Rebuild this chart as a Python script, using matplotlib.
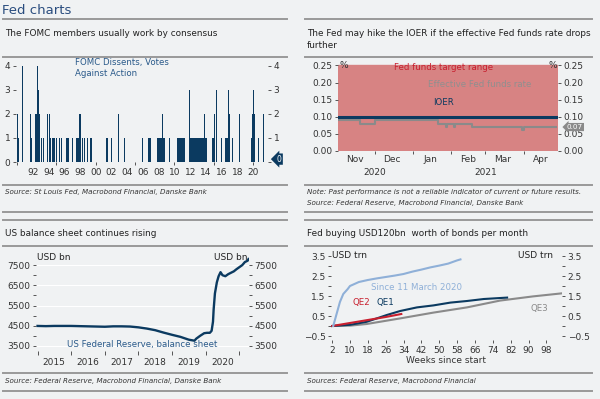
import numpy as np
import pandas as pd
import matplotlib
matplotlib.use("Agg")
import matplotlib.pyplot as plt
import matplotlib.dates as mdates
from matplotlib.lines import Line2D

plt.rcParams['font.family'] = ['DejaVu Sans']

# ---------------- data ----------------
# FOMC dissents (decimal year of meeting, votes against)
fomc_dates = [1990.0, 1990.17, 1990.64, 1991.74, 1991.87, 1992.38, 1992.47, 1992.54, 1992.67, 1992.8,
              1993.1, 1993.3, 1993.87, 1994.07, 1994.29, 1994.45, 1994.63, 1994.8, 1994.96,
              1995.34, 1995.69, 1996.32, 1996.45, 1996.58, 1997.05, 1997.6, 1997.72, 1997.85,
              1997.98, 1998.1, 1998.27, 1998.52, 1998.9, 1999.38, 1999.5,
              2001.41, 2001.54, 2002.05, 2002.9, 2003.6, 2005.9,
              2006.75, 2006.88, 2007.0,
              2007.9, 2008.03, 2008.15, 2008.28, 2008.4, 2008.53, 2008.65, 2008.78,
              2009.43,
              2010.4, 2010.52, 2010.64, 2010.76, 2010.88, 2011.0, 2011.12, 2011.24,
              2011.97, 2012.1, 2012.22, 2012.34, 2012.46, 2012.58, 2012.7, 2012.82, 2012.94,
              2013.06, 2013.18, 2013.3, 2013.42, 2013.54, 2013.66, 2013.78, 2013.9, 2014.02, 2014.14,
              2014.85, 2014.97, 2015.1, 2015.3,
              2016.04, 2016.46, 2016.58, 2016.7, 2016.9, 2017.05, 2017.4, 2017.7,
              2018.33, 2019.82, 2019.94, 2020.06, 2020.18, 2020.7, 2021.3]
fomc_dissents = [2, 1, 4, 2, 1, 2, 2, 4, 3, 2,
                 1, 1, 2, 2, 1, 1, 1, 1, 1,
                 1, 1, 1, 1, 1, 1, 1, 1, 1,
                 2, 2, 1, 1, 1, 1, 1,
                 1, 1, 1, 2, 1, 1,
                 1, 1, 1,
                 1, 1, 1, 1, 1, 2, 1, 1,
                 1,
                 1, 1, 1, 1, 1, 1, 1, 1,
                 3, 1, 1, 1, 1, 1, 1, 1, 1,
                 1, 1, 1, 1, 1, 1, 2, 1, 1, 1,
                 1, 1, 2, 3,
                 1, 1, 1, 1, 3, 2, 1, 1,
                 2, 1, 2, 3, 2, 1, 2]
fomc_years = list(range(1992, 2021, 2))

# Fed funds panel
rate_start = "2020-11-01"
rate_end = "2021-04-29"
target_low, target_high = 0.0, 0.25
ioer = 0.10
effr_dates = ["2020-11-01", "2020-11-19", "2020-12-01", "2021-01-21", "2021-01-28", "2021-01-29",
              "2021-02-03", "2021-02-04", "2021-02-18", "2021-03-31", "2021-04-01", "2021-04-27"]
effr_values = [0.09, 0.08, 0.09, 0.08, 0.07, 0.08, 0.07, 0.08, 0.07, 0.06, 0.07, 0.07]
months = ["Nov", "Dec", "Jan", "Feb", "Mar", "Apr"]

# Fed balance sheet, USD bn
bs_dates = ["2015-01-01", "2015-04-01", "2015-07-01", "2015-10-01", "2016-01-01", "2016-04-01",
            "2016-07-01", "2016-10-01", "2017-01-01", "2017-04-01", "2017-07-01", "2017-10-01",
            "2018-01-01", "2018-04-01", "2018-07-01", "2018-10-01", "2019-01-01", "2019-04-01",
            "2019-07-01", "2019-09-01", "2019-09-20", "2019-11-01", "2019-12-15", "2020-01-15",
            "2020-02-15", "2020-03-05", "2020-03-20", "2020-03-27", "2020-04-10", "2020-05-01",
            "2020-05-20", "2020-06-10", "2020-07-01", "2020-08-01", "2020-09-01", "2020-10-01",
            "2020-11-01", "2020-12-01", "2021-01-01", "2021-02-01", "2021-03-01", "2021-04-01",
            "2021-04-10"]
bs_values = [4490, 4480, 4490, 4490, 4490, 4480,
             4470, 4460, 4450, 4470, 4470, 4460,
             4420, 4360, 4280, 4160, 4050, 3950,
             3810, 3760, 3860, 4000, 4130, 4150,
             4150, 4250, 4700, 5300, 6100, 6650,
             6950, 7150, 7000, 6950, 7050, 7120,
             7190, 7300, 7400, 7500, 7650, 7720,
             7800]
bs_years = list(range(2015, 2021))

# QE comparison, USD trn by weeks since start
covid_weeks = [2.5, 4, 5.5, 7, 9, 10, 12, 14, 18, 22, 26, 30, 34, 38, 42, 46, 50, 54, 58, 59.5]
covid_vals = [0, 0.6, 1.2, 1.6, 1.85, 2.0, 2.1, 2.2, 2.3, 2.38, 2.45, 2.52, 2.6, 2.72, 2.82, 2.93, 3.02, 3.12, 3.28, 3.33]
qe1_weeks = [2, 10, 17.5, 26.5, 32.5, 40, 47.4, 55, 62.4, 70, 80.4]
qe1_vals = [0, 0.06, 0.21, 0.55, 0.75, 0.93, 1.03, 1.17, 1.25, 1.35, 1.42]
qe2_weeks = [2, 10, 18, 26, 33]
qe2_vals = [0, 0.15, 0.3, 0.45, 0.6]
qe3_weeks = [2, 10.2, 17.5, 32.5, 47.4, 62.4, 77.2, 92, 104.7]
qe3_vals = [0, 0.02, 0.1, 0.38, 0.67, 0.93, 1.27, 1.48, 1.63]

# ---------------- styling ----------------
W, H = 600, 399
BG = '#f0f2f3'
NAVY = '#0b3a60'
RED = '#c8202f'
GREY = '#8a8a8a'
LBLUE = '#8fb0d8'
TXT = '#222222'
LINE = '#999999'

fig = plt.figure(figsize=(6, 3.99), dpi=100, facecolor=BG)


def box(l, t, r, b):
    return [l / W, 1 - b / H, (r - l) / W, (b - t) / H]


def hline(x0, x1, y):
    fig.add_artist(Line2D([x0 / W, x1 / W], [1 - y / H, 1 - y / H], color=LINE, lw=1.4))


def ftext(x, y, s, **kw):
    fig.text(x / W, 1 - y / H, s, va='center', **kw)


def style(ax):
    ax.set_facecolor('none')
    for sp in ax.spines.values():
        sp.set_visible(False)
    ax.tick_params(axis='both', which='both', length=2.5, width=0.7, color='#555555',
                   labelsize=6.5, labelcolor='#333333', pad=1.5)


ftext(2, 10, "Fed charts", fontsize=9.5, color='#2a4d7f')

# separators
for x0, x1 in [(3, 287), (305, 592)]:
    for y in [19, 57, 185, 212, 220, 246, 373, 391]:
        hline(x0, x1, y)

ftext(5, 33, "The FOMC members usually work by consensus", fontsize=6.4, color=TXT)
ftext(307, 33, "The Fed may hike the IOER if the effective Fed funds rate drops", fontsize=6.4, color=TXT)
ftext(307, 45, "further", fontsize=6.4, color=TXT)
ftext(5, 233, "US balance sheet continues rising", fontsize=6.4, color=TXT)
ftext(307, 233, "Fed buying USD120bn  worth of bonds per month", fontsize=6.4, color=TXT)

src = dict(fontsize=5.1, style='italic', color='#333333')
ftext(5, 192, "Source: St Louis Fed, Macrobond Financial, Danske Bank", **src)
ftext(307, 192, "Note: Past performance is not a reliable indicator of current or future results.", **src)
ftext(307, 203, "Source: Federal Reserve, Macrobond Financial, Danske Bank", **src)
ftext(5, 381, "Source: Federal Reserve, Macrobond Financial, Danske Bank", **src)
ftext(307, 381, "Sources: Federal Reserve, Macrobond Financial", **src)

# ---------------- panel 1: FOMC dissents ----------------
ax1 = fig.add_axes(box(16, 63, 268, 162))
style(ax1)
ax1.bar(fomc_dates, fomc_dissents, width=0.12, color=NAVY, align='center', linewidth=0)
ax1.set_xlim(1989.85, 2021.9)
ax1.set_ylim(0, 4.12)
ax1.set_yticks([0, 1, 2, 3, 4])
ax1.xaxis.remove_overlapping_locs = False
ax1.set_xticks([1990, 1995, 2000, 2005, 2010, 2015, 2020])
ax1.set_xticklabels([])
ax1.set_xticks(fomc_years, minor=True)
ax1.set_xticklabels(["%02d" % (y % 100) for y in fomc_years], minor=True)
ax1.tick_params(axis='x', which='minor', length=0, pad=4)
ax1r = ax1.twinx()
style(ax1r)
ax1r.set_ylim(ax1.get_ylim())
ax1r.set_yticks([0, 1, 2, 3, 4])
ax1r.set_yticklabels(["", "1", "2", "3", "4"])
ax1.text(1997.3, 3.9, "FOMC Dissents, Votes\nAgainst Action", fontsize=6.2, color='#2a5a8a',
         va='center', ha='left', linespacing=1.3)
ax1r.annotate("0", xy=(1.0, 0.12), xycoords=('axes fraction', 'data'), xytext=(1.035, 0.12),
              textcoords=('axes fraction', 'data'), fontsize=5.5, color='white', va='center', ha='left',
              bbox=dict(boxstyle='larrow,pad=0.15', fc=NAVY, ec='none'))

# ---------------- panel 2: Fed funds ----------------
ax2 = fig.add_axes(box(338, 62, 558, 151))
style(ax2)
d0, d1 = pd.Timestamp(rate_start), pd.Timestamp(rate_end)
ax2.axhspan(target_low, target_high, color='#d78383', zorder=0)
ax2.axhline(ioer, color=NAVY, lw=2.2, zorder=3)
ax2.plot(pd.to_datetime(effr_dates), effr_values, drawstyle='steps-post', color=GREY, lw=1.5, zorder=2)
ax2.set_xlim(d0, d1)
ax2.set_ylim(0, 0.26)
yt = [0, 0.05, 0.10, 0.15, 0.20, 0.25]
ax2.set_yticks(yt)
ax2.set_yticklabels(["%.2f" % v for v in yt])
ax2.xaxis.remove_overlapping_locs = False
mstarts = pd.date_range("2020-12-01", "2021-04-01", freq='MS')
ax2.set_xticks(mstarts)
ax2.set_xticklabels([])
mids = pd.date_range("2020-11-01", "2021-04-01", freq='MS') + pd.Timedelta(days=14)
ax2.set_xticks(mids, minor=True)
ax2.set_xticklabels(months, minor=True)
ax2.tick_params(axis='x', which='minor', length=0, pad=3)
ax2r = ax2.twinx()
style(ax2r)
ax2r.set_ylim(ax2.get_ylim())
ax2r.set_yticks(yt)
ax2r.set_yticklabels(["%.2f" % v for v in yt])
ax2.text(d0 + pd.Timedelta(days=1), 0.25, "%", fontsize=6.5, va='center', ha='left', color='#333333')
ax2.text(d1 - pd.Timedelta(days=1), 0.25, "%", fontsize=6.5, va='center', ha='right', color='#333333')
ax2.text(pd.Timestamp("2021-01-26"), 0.243, "Fed funds target range", fontsize=6.2, color=RED, ha='center', va='center')
ax2.text(pd.Timestamp("2021-02-24"), 0.195, "Effective Fed funds rate", fontsize=6.2, color='#8f8f8f', ha='center', va='center')
ax2.text(pd.Timestamp("2021-01-26"), 0.141, "IOER", fontsize=6.2, color=NAVY, ha='center', va='center')
ax2.text(pd.Timestamp("2020-12-01"), -0.062, "2020", fontsize=6.5, color='#333333', ha='center', va='center')
ax2.text(pd.Timestamp("2021-03-01"), -0.062, "2021", fontsize=6.5, color='#333333', ha='center', va='center')
ax2r.annotate("%.2f" % effr_values[-1], xy=(1.0, effr_values[-1]), xycoords=('axes fraction', 'data'),
              xytext=(1.04, effr_values[-1]), textcoords=('axes fraction', 'data'), fontsize=5.2,
              color='white', va='center', ha='left',
              bbox=dict(boxstyle='larrow,pad=0.15', fc='#8a8a8a', ec='none'))

# ---------------- panel 3: balance sheet ----------------
ax3 = fig.add_axes(box(36, 256, 249, 351))
style(ax3)
ax3.plot(pd.to_datetime(bs_dates), bs_values, color=NAVY, lw=1.7)
ax3.set_xlim(pd.Timestamp("2014-12-15"), pd.Timestamp("2021-04-15"))
ax3.set_ylim(3250, 7950)
ax3.set_yticks(range(3500, 7501, 1000))
ax3.set_yticks(range(4000, 7501, 1000), minor=True)
ax3.set_xticks(pd.to_datetime(["%d-01-01" % y for y in range(2015, 2022)]))
ax3.set_xticklabels([])
ax3.set_xticks(pd.to_datetime(["%d-07-01" % y for y in bs_years]), minor=True)
ax3.set_xticklabels([str(y) for y in bs_years], minor=True)
ax3.tick_params(axis='x', which='minor', length=0, pad=5)
ax3.tick_params(axis='x', which='major', length=3)
ax3.grid(axis='y', color='white', lw=0.8)
ax3.set_axisbelow(True)
ax3r = ax3.twinx()
style(ax3r)
ax3r.set_ylim(ax3.get_ylim())
ax3r.set_yticks(range(3500, 7501, 1000))
ax3r.set_yticks(range(4000, 7501, 1000), minor=True)
ax3.text(0.005, 0.985, "USD bn", transform=ax3.transAxes, fontsize=6.5, color='#222222', va='center', ha='left')
ax3.text(0.995, 0.985, "USD bn", transform=ax3.transAxes, fontsize=6.5, color='#222222', va='center', ha='right')
ax3.text(0.5, 3560, "US Federal Reserve, balance sheet", transform=ax3.get_yaxis_transform(),
         fontsize=6.2, color='#2a5a8a', ha='center', va='center')

# ---------------- panel 4: QE comparison ----------------
ax4 = fig.add_axes(box(331, 254, 562, 340))
style(ax4)
ax4.plot(qe3_weeks, qe3_vals, color=GREY, lw=1.5)
ax4.plot(qe1_weeks, qe1_vals, color=NAVY, lw=1.5)
ax4.plot(qe2_weeks, qe2_vals, color=RED, lw=1.5)
ax4.plot(covid_weeks, covid_vals, color=LBLUE, lw=1.5)
ax4.set_xlim(1.5, 105)
ax4.set_ylim(-0.7, 3.6)
ax4.set_xticks(range(2, 99, 8))
ax4.set_yticks([-0.5, 0.5, 1.5, 2.5, 3.5])
ax4.set_yticks([0, 1, 2, 3], minor=True)
ax4.set_xlabel("Weeks since start", fontsize=6.5, color='#333333', labelpad=1)
ax4r = ax4.twinx()
style(ax4r)
ax4r.set_ylim(ax4.get_ylim())
ax4r.set_yticks([-0.5, 0.5, 1.5, 2.5, 3.5])
ax4r.set_yticks([0, 1, 2, 3], minor=True)
ax4.text(0.005, 3.5, "USD trn", fontsize=6.5, color='#222222', va='center', ha='left',
         transform=ax4.get_yaxis_transform())
ax4.text(0.96, 3.5, "USD trn", fontsize=6.5, color='#222222', va='center', ha='right',
         transform=ax4.get_yaxis_transform())
ax4.text(40, 1.95, "Since 11 March 2020", fontsize=6.2, color=LBLUE, ha='center', va='center')
ax4.text(15, 1.15, "QE2", fontsize=6.2, color=RED, ha='center', va='center')
ax4.text(26, 1.2, "QE1", fontsize=6.2, color=NAVY, ha='center', va='center')
ax4.text(95, 0.85, "QE3", fontsize=6.2, color=GREY, ha='center', va='center')

fig.savefig("out.png", dpi=100, facecolor=BG)
